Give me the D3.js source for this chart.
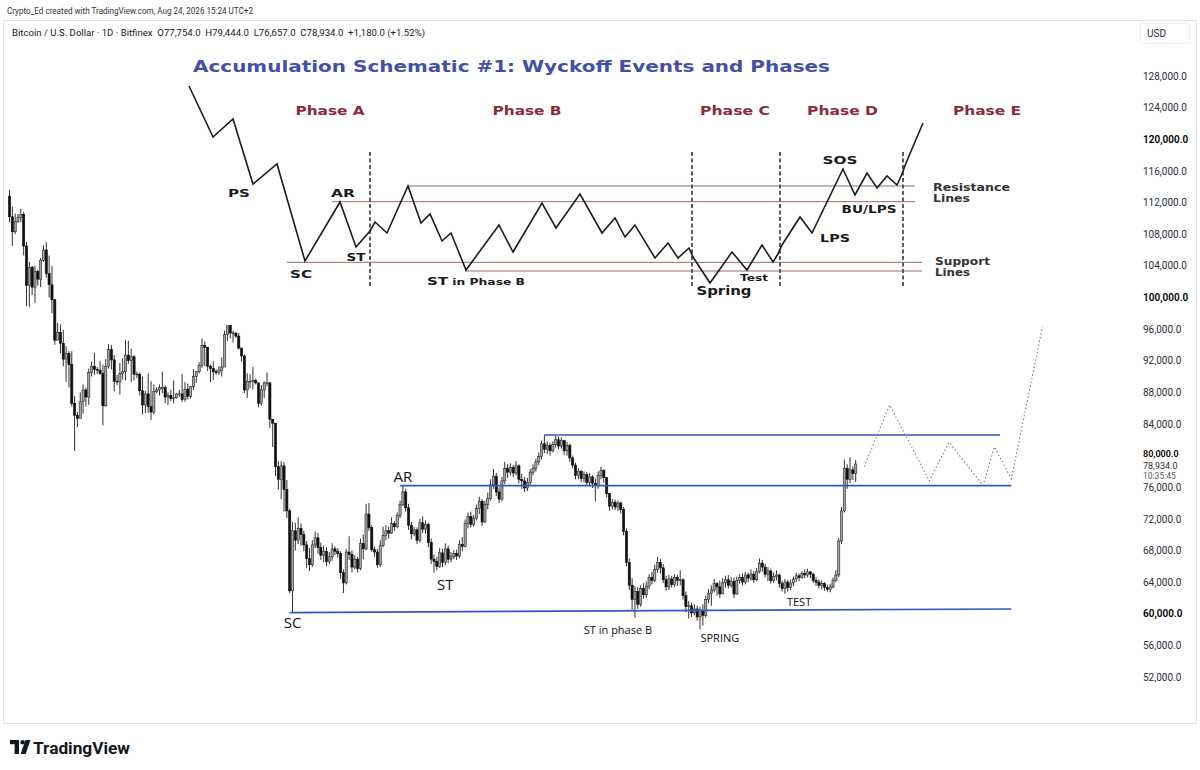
<!DOCTYPE html>
<html><head><meta charset="utf-8">
<script src="https://cdn.jsdelivr.net/npm/d3@7"></script>
<style>html,body{margin:0;padding:0;background:#fff;} svg{display:block;}</style>
</head><body>
<svg id="c" width="1200" height="770"></svg>
<script>
// ---------------- DATA ----------------
const startDate = "2025-10-29";   // first daily candle
const firstOpen = 112.8;          // thousands USD
// daily closes (thousands USD)
const closes = [
110.2,108.3,109.6,110.1,110.5,106.5,101.5,103.8,101.3,103.3,
102.3,104.7,106.0,103.0,101.6,99.7,94.6,95.6,94.2,92.2,
92.9,91.5,86.6,85.1,84.7,86.8,88.3,87.4,90.5,91.3,
90.9,90.8,90.4,86.3,91.3,93.4,92.1,89.4,89.3,90.4,
90.6,92.7,92.0,92.5,90.3,90.3,88.2,86.4,87.8,86.2,
85.5,88.1,88.3,88.6,88.6,87.4,87.6,87.2,87.3,87.8,
87.8,87.1,88.4,87.5,88.7,90.0,90.6,91.4,93.9,93.7,
91.3,91.0,90.6,90.5,90.8,91.2,95.3,96.9,95.5,95.5,
95.1,93.6,92.6,88.3,89.4,89.4,89.5,89.2,86.6,88.3,
89.2,89.2,84.6,84.1,78.6,77.0,78.7,75.7,73.0,62.9,
70.5,69.3,70.8,70.0,68.7,67.0,66.2,68.7,69.6,68.4,
67.4,67.9,66.6,67.2,68.2,67.9,67.6,65.2,63.9,67.8,
67.5,65.9,66.9,65.7,68.9,68.2,72.6,70.9,68.1,67.8,
66.2,68.6,69.9,70.5,70.2,71.4,71.0,72.4,73.8,75.4,
73.4,71.2,70.1,70.6,69.3,71.5,70.7,71.3,69.0,66.9,
66.6,66.0,67.7,66.5,68.2,66.9,67.2,67.6,67.3,68.8,
68.5,71.4,72.3,71.3,72.1,73.3,74.2,71.6,73.8,74.6,
76.3,77.4,75.4,74.5,76.8,78.4,77.9,78.5,77.8,78.7,
77.0,76.8,75.9,76.6,77.9,78.4,79.2,79.9,81.5,80.8,
81.3,80.6,81.4,82.0,81.2,81.9,80.6,81.3,79.7,78.8,
77.5,78.0,77.1,77.6,76.6,77.3,76.5,76.2,77.5,78.1,
77.2,75.2,73.6,74.1,73.5,74.0,73.2,70.4,66.5,63.6,
61.8,62.8,61.2,63.2,62.4,63.5,64.6,64.2,65.6,66.5,
65.8,64.3,63.4,64.4,63.7,64.6,64.2,64.3,62.3,60.9,
61.0,60.1,60.6,59.6,60.4,59.8,61.8,62.6,63.0,63.8,
63.4,62.5,63.9,64.3,63.6,64.1,62.5,64.2,64.6,64.0,
64.9,64.5,65.0,64.3,65.3,66.4,65.9,65.0,65.4,64.2,
64.7,64.9,63.8,63.2,64.0,63.3,63.9,64.4,64.8,64.6,
65.1,64.9,65.3,65.0,64.2,64.0,63.6,63.8,63.3,63.1,
63.4,64.2,64.9,69.2,73.0,78.4,77.0,78.2,77.754,78.934];
const highs = [
113.6,111.5,110.6,110.6,111.2,110.8,107.0,104.5,104.0,104.0,
103.5,105.0,106.6,107.0,105.3,104.0,99.8,96.8,96.6,95.9,
93.8,93.2,93.2,87.5,85.5,88.0,89.0,88.6,91.0,91.9,
93.0,91.2,92.0,91.5,92.2,94.1,94.0,92.7,90.2,91.7,
92.3,94.6,94.5,93.5,92.7,90.6,90.5,90.0,88.2,90.4,
89.4,89.0,88.6,89.0,90.6,88.9,88.0,88.3,89.5,87.9,
88.3,90.3,89.3,89.1,88.8,90.9,90.7,91.8,94.8,94.4,
93.6,91.5,91.9,90.9,91.3,92.4,95.8,97.9,97.1,95.8,
95.6,95.5,93.4,92.8,90.4,90.3,91.2,89.7,89.2,88.9,
89.4,90.5,89.3,84.6,84.1,79.3,79.3,79.2,76.9,73.3,
71.6,71.5,72.2,71.4,70.5,69.2,68.3,69.3,70.4,70.2,
69.0,68.6,68.4,67.8,68.9,68.5,68.3,67.9,65.6,68.2,
69.8,68.0,67.4,67.2,69.5,70.0,73.9,74.0,71.2,68.5,
68.2,69.3,71.0,71.2,71.0,72.2,71.7,72.8,74.3,76.2,
75.8,73.9,71.6,71.0,70.9,72.0,72.3,71.8,71.5,69.5,
67.5,67.2,68.3,68.2,68.9,68.6,67.8,68.0,68.1,69.3,
69.7,71.9,72.8,72.9,72.5,73.8,74.8,74.5,74.3,75.3,
77.0,78.3,77.8,76.0,77.3,79.2,78.9,79.0,78.8,79.3,
78.9,77.7,77.3,77.2,78.3,78.9,79.6,80.4,81.9,82.6,
81.8,81.6,81.8,82.5,82.4,82.3,82.0,81.7,81.5,80.0,
79.1,78.4,78.2,78.0,77.9,77.8,77.5,77.1,78.0,78.6,
78.3,77.3,75.0,74.5,74.4,74.3,74.2,73.5,70.8,67.0,
64.5,63.5,63.4,63.6,63.9,64.1,65.0,65.3,66.2,67.2,
66.9,66.3,64.8,64.9,64.8,65.0,64.9,65.5,64.5,62.8,
61.6,61.4,61.2,61.0,60.9,61.2,62.3,63.1,63.6,64.4,
64.0,64.2,64.5,64.8,64.9,64.6,64.6,64.7,65.0,65.1,
65.3,65.2,65.6,65.4,65.8,67.0,66.8,66.3,65.9,65.7,
65.2,65.5,65.1,64.2,64.4,64.3,64.3,64.7,65.2,65.1,
65.4,65.6,65.7,65.4,65.2,64.6,64.3,64.2,64.0,63.7,
63.8,64.6,65.5,69.6,73.5,79.5,78.9,79.8,78.6,79.444];
const lows = [
109.5,106.5,108.0,109.4,109.5,105.3,98.9,98.8,100.3,99.3,
101.5,101.3,104.5,102.5,100.0,98.0,94.0,94.6,92.9,91.3,
89.3,88.6,86.2,80.6,83.6,84.8,85.3,86.2,86.4,90.0,
90.2,90.3,90.2,83.8,86.2,91.0,90.9,88.1,88.9,87.7,
89.6,89.5,91.6,89.3,89.5,89.8,87.6,85.2,85.4,85.4,
84.5,85.2,87.9,87.6,87.9,86.6,86.4,86.9,86.6,87.2,
87.4,86.8,86.8,87.1,87.2,88.3,89.2,90.4,91.1,91.3,
90.7,89.3,89.6,90.2,90.2,90.0,91.2,94.5,94.8,94.3,
94.9,93.4,91.9,87.9,87.3,88.5,88.4,89.0,86.1,86.3,
87.3,88.8,83.5,81.1,77.4,75.7,74.5,72.9,72.1,62.6,
60.1,68.0,68.8,68.6,67.9,65.8,65.4,65.9,68.3,67.6,
66.8,66.5,66.0,66.3,66.7,67.4,67.1,64.4,62.6,63.7,
66.8,65.2,65.6,65.2,65.5,66.9,68.0,70.5,67.8,67.2,
65.8,65.9,68.4,69.3,69.5,70.1,70.5,70.8,72.1,73.6,
72.9,70.6,69.4,69.8,68.8,69.0,70.2,70.1,68.4,66.3,
65.2,65.5,65.8,65.9,66.1,66.4,66.5,66.9,66.8,67.0,
67.9,68.4,70.8,70.9,71.0,71.8,72.6,71.1,71.5,73.2,
74.3,75.8,74.9,74.0,74.2,76.4,77.2,77.5,77.3,77.5,
76.5,75.8,75.4,75.5,76.3,77.5,78.0,78.8,79.5,80.3,
80.2,80.0,80.4,81.0,80.8,80.9,80.1,80.0,79.2,78.4,
77.0,77.0,76.6,76.6,76.2,76.1,75.9,74.2,75.8,77.0,
76.6,74.7,73.0,73.2,73.1,73.0,72.7,69.9,66.0,63.0,
60.5,59.5,60.6,60.9,61.9,62.0,63.1,63.7,64.0,65.2,
65.1,63.9,62.9,63.0,63.3,63.4,63.5,63.6,61.8,60.2,
59.4,59.6,59.8,59.1,58.0,58.5,59.5,61.3,61.0,62.7,
62.3,62.0,62.6,63.3,63.2,63.3,62.0,62.4,63.8,63.6,
63.7,64.0,64.2,63.9,64.1,65.1,65.3,64.6,64.1,63.8,
63.9,64.2,63.3,62.8,62.5,62.8,63.0,63.5,64.0,64.1,
64.4,64.5,64.6,64.5,63.9,63.5,63.2,63.1,62.9,62.8,
62.7,63.2,64.0,64.6,68.8,72.8,75.8,76.5,76.9,76.657];

const monthTicks = ["2025-11-01","2025-12-01","2026-01-01","2026-02-01","2026-03-01","2026-04-01","2026-05-01","2026-06-01","2026-07-01","2026-08-01","2026-09-01","2026-10-01","2026-11-01","2026-12-01"];
const monthLabels = ["Nov","Dec","2026","Feb","Mar","Apr","May","Jun","Jul","Aug","Sep","Oct","Nov","Dec"];
const priceTicks = [52000,56000,60000,64000,68000,72000,76000,80000,84000,88000,92000,96000,100000,104000,108000,112000,116000,120000,124000,128000];
const strongTicks = [60000,80000,100000,120000];

// blue horizontal levels
const levelStart = ["2026-05-06","2026-03-16","2026-02-05"];
const levelEnd   = ["2026-10-14","2026-10-18","2026-10-18"];
const levelP0    = [82.6, 76.2, 60.15];
const levelP1    = [82.6, 76.2, 60.6];

// dotted projection
const projDates  = ["2026-08-27","2026-09-05","2026-09-19","2026-09-26","2026-10-08","2026-10-12","2026-10-18","2026-10-29"];
const projPrices = [78.6, 86.4, 76.8, 81.7, 76.2, 81.1, 77.05, 96.3];

// chart annotations
const noteText   = ["SC","AR","ST","ST in phase B","SPRING","TEST"];
const noteDates  = ["2026-02-06","2026-03-17","2026-04-01","2026-06-01","2026-07-07","2026-08-04"];
const notePrices = [58.2, 76.66, 63.0, 57.44, 56.4, 61.0];
const noteSizes  = [15, 15, 15, 11, 11, 11];

// ---- inset schematic (its own units: 0..930 x 0..275) ----
const schemX = [49,73,93,113,137,165,200,216,230,235,247,268,281,290,302,311,326,359,373,402,416,440,462,475,485,495,515,528,538,549,553,570,592,607,622,633,638,642,660,672,703,715,727,737,747,757,762,766,783];
const schemY = [36,87,69,134,114,211,152,197,181,172,183,136,173,164,191,183,220,175,202,153,178,144,183,168,187,175,208,193,208,198,207,233,202,220,195,212,204,195,167,183,119,145,123,138,126,135,124,113,73];
const schemHY  = [136, 151.7, 212.3, 221];
const schemHX0 = [268, 192, 147, 325];
const schemHX1 = [775, 775, 782, 782];
const schemVX  = [230, 552, 640, 763];
const phaseText = ["Phase A","Phase B","Phase C","Phase D","Phase E"];
const phaseX    = [190, 387, 595, 702.5, 847];
const phaseW    = [69, 69, 70, 71, 68];
const evText = ["PS","AR","SC","ST","LPS","BU/LPS","SOS","Test","Spring"];
const evX    = [99, 203, 161, 216, 695, 729, 700, 614, 584];
const evY    = [147, 147, 228, 211, 192, 163, 114, 231, 245];
const evW    = [22, 24, 22, 19, 30, 55, 35, 28, 55];
const evSize = [11, 11, 11, 11, 11, 11, 11, 9.5, 12.5];
const sideText = ["Resistance","Lines","Support","Lines"];
const sideX    = [793, 793, 795, 795];
const sideY    = [141, 152, 215, 226];
const sideW    = [77, 37, 55, 35];

if (closes.length !== highs.length || closes.length !== lows.length) throw new Error("len mismatch "+closes.length+" "+highs.length+" "+lows.length);

// ---------------- CHART ----------------
const svg = d3.select("#c");
const parse = d3.utcParse("%Y-%m-%d");
const PX_DAY = 2.83;
const x = d3.scaleUtc().domain([parse("2025-11-01"), parse("2026-12-01")]).range([18, 18 + 395*PX_DAY]);
const y = d3.scaleLinear().domain([52, 128]).range([677, 76]);
const PLOT_R = 1136;

svg.append("defs").append("clipPath").attr("id","plot")
  .append("rect").attr("x",3).attr("y",20).attr("width",PLOT_R-3).attr("height",704);
svg.select("defs").append("clipPath").attr("id","xax")
  .append("rect").attr("x",0).attr("y",690).attr("width",1141).attr("height",40);

// frame
svg.append("rect").attr("x",3.5).attr("y",20.5).attr("width",1193).attr("height",703)
  .attr("fill","none").attr("stroke","#e0e3eb");

const plot = svg.append("g").attr("clip-path","url(#plot)");

// candles
const start = parse(startDate);
const candles = closes.map((c,i)=>({
  date: d3.utcDay.offset(start, i),
  o: i===0 ? firstOpen : closes[i-1], c, h: highs[i], l: lows[i]
}));
const cg = plot.append("g");
const cs = cg.selectAll("g").data(candles).join("g");
cs.append("line")
  .attr("x1", d=>x(d.date)).attr("x2", d=>x(d.date))
  .attr("y1", d=>y(Math.max(d.h, d.o, d.c))).attr("y2", d=>y(Math.min(d.l, d.o, d.c)))
  .attr("stroke","#1a1a1a").attr("stroke-width",0.9);
cs.append("rect")
  .attr("x", d=>x(d.date)-1.1).attr("width",2.2)
  .attr("y", d=>y(Math.max(d.o,d.c)))
  .attr("height", d=>Math.max(0.8, Math.abs(y(d.o)-y(d.c))))
  .attr("fill", d=> d.c>=d.o ? "#a3a3a3" : "#111")
  .attr("stroke", d=> d.c>=d.o ? "#2a2a2a" : "#111").attr("stroke-width",0.6);

// blue levels
plot.selectAll(".lvl").data(levelStart).join("line").attr("class","lvl")
  .attr("x1",(d,i)=>x(parse(d))).attr("x2",(d,i)=>x(parse(levelEnd[i])))
  .attr("y1",(d,i)=>y(levelP0[i])).attr("y2",(d,i)=>y(levelP1[i]))
  .attr("stroke","#3157c9").attr("stroke-width",1.7);

// projection
const proj = projDates.map((d,i)=>[x(parse(d)), y(projPrices[i])]);
plot.append("path").attr("d", d3.line()(proj)).attr("fill","none")
  .attr("stroke","#777").attr("stroke-width",1.1).attr("stroke-dasharray","1.4,2.4");

// annotations
plot.selectAll(".note").data(noteText).join("text").attr("class","note")
  .attr("x",(d,i)=>x(parse(noteDates[i]))).attr("y",(d,i)=>y(notePrices[i]))
  .attr("text-anchor","middle").attr("font-family","'Open Sans', sans-serif")
  .attr("font-size",(d,i)=>noteSizes[i]).attr("fill","#111").text(d=>d);

// ---------------- INSET SCHEMATIC ----------------
const sx = d3.scaleLinear().domain([0,930]).range([140,1070]);
const sy = d3.scaleLinear().domain([0,275]).range([50,325]);
const sg = svg.append("g");
sg.append("rect").attr("x",sx(0)).attr("y",sy(0)).attr("width",sx(930)-sx(0)).attr("height",sy(275)-sy(0)).attr("fill","#fff");
const bold = "'DejaVu Sans', Verdana, sans-serif";
sg.append("text").attr("x",sx(371.5)).attr("y",sy(22)).attr("text-anchor","middle")
  .attr("font-family",bold).attr("font-weight","bold").attr("font-size",15.5)
  .attr("fill","#4250a8").attr("textLength",637).attr("lengthAdjust","spacingAndGlyphs")
  .text("Accumulation Schematic #1: Wyckoff Events and Phases");
sg.selectAll(".ph").data(phaseText).join("text").attr("class","ph")
  .attr("x",(d,i)=>sx(phaseX[i])).attr("y",sy(65)).attr("text-anchor","middle")
  .attr("font-family",bold).attr("font-weight","bold").attr("font-size",12.5)
  .attr("fill","#8c2b3d").attr("textLength",(d,i)=>phaseW[i]).attr("lengthAdjust","spacingAndGlyphs").text(d=>d);
sg.selectAll(".hl").data(schemHY).join("line").attr("class","hl")
  .attr("x1",(d,i)=>sx(schemHX0[i])).attr("x2",(d,i)=>sx(schemHX1[i]))
  .attr("y1",d=>sy(d)).attr("y2",d=>sy(d)).attr("stroke","#9a6a6a").attr("stroke-width",1);
sg.selectAll(".vl").data(schemVX).join("line").attr("class","vl")
  .attr("x1",d=>sx(d)).attr("x2",d=>sx(d)).attr("y1",sy(102)).attr("y2",sy(237))
  .attr("stroke","#555").attr("stroke-width",1.9).attr("stroke-dasharray","4,2.5");
sg.append("path").attr("d", d3.line()(schemX.map((v,i)=>[sx(v), sy(schemY[i])])))
  .attr("fill","none").attr("stroke","#1c1c1c").attr("stroke-width",1.6).attr("stroke-linejoin","miter");
sg.selectAll(".ev").data(evText).join("text").attr("class","ev")
  .attr("x",(d,i)=>sx(evX[i])).attr("y",(d,i)=>sy(evY[i])).attr("text-anchor","middle")
  .attr("font-family",bold).attr("font-weight","bold").attr("font-size",(d,i)=>evSize[i])
  .attr("fill","#1a1a1a").attr("textLength",(d,i)=>evW[i]).attr("lengthAdjust","spacingAndGlyphs").text(d=>d);
const stb = sg.append("text").attr("x",sx(336)).attr("y",sy(235)).attr("text-anchor","middle")
  .attr("font-family",bold).attr("font-weight","bold").attr("fill","#1a1a1a")
  .attr("textLength",98).attr("lengthAdjust","spacingAndGlyphs");
stb.append("tspan").attr("font-size",11).text("ST");
stb.append("tspan").attr("font-size",9).text(" in Phase B");
sg.selectAll(".sd").data(sideText).join("text").attr("class","sd")
  .attr("x",(d,i)=>sx(sideX[i])).attr("y",(d,i)=>sy(sideY[i]))
  .attr("font-family",bold).attr("font-weight","bold").attr("font-size",10)
  .attr("fill","#333").attr("textLength",(d,i)=>sideW[i]).attr("lengthAdjust","spacingAndGlyphs").text(d=>d);

// ---------------- AXES ----------------
const fmt = d3.format(",.1f");
const ya = svg.append("g").attr("transform",`translate(${PLOT_R},0)`)
  .call(d3.axisRight(y).tickValues(priceTicks.map(v=>v/1000)).tickSize(0).tickPadding(7).tickFormat(v=>fmt(v*1000)));
ya.select(".domain").remove();
ya.selectAll("text").attr("font-family","Roboto, sans-serif").attr("font-size",10)
  .attr("fill",v=> strongTicks.includes(Math.round(v*1000)) ? "#000" : "#2a2e39")
  .attr("font-weight",v=> strongTicks.includes(Math.round(v*1000)) ? 600 : 400);
// 80,000 label sits tight above the last price, as in the reference
ya.selectAll(".tick").filter(v=>Math.round(v*1000)===80000).select("text").attr("font-size",9).attr("dy","0.1em");
// last price & countdown
const lastY = y(closes[closes.length-1]);
svg.append("text").attr("x",PLOT_R+7).attr("y",lastY+2).attr("dy","0.32em")
  .attr("font-family","Roboto, sans-serif").attr("font-size",9).attr("fill","#2a2e39").text(fmt(closes[closes.length-1]*1000));
svg.append("text").attr("x",PLOT_R+7).attr("y",lastY+12).attr("dy","0.32em")
  .attr("font-family","Roboto, sans-serif").attr("font-size",8.5).attr("fill","#555").text("10:35:45");
// USD box
svg.append("rect").attr("x",1140.5).attr("y",23.5).attr("width",49).attr("height",20).attr("rx",2)
  .attr("fill","#fff").attr("stroke","#eceef2");
svg.append("text").attr("x",1147).attr("y",37).attr("font-family","Roboto, sans-serif").attr("font-size",10)
  .attr("fill","#2a2e39").text("USD");

const xa = svg.append("g").attr("transform","translate(0,700)").attr("clip-path","url(#xax)")
  .call(d3.axisBottom(x).tickValues(monthTicks.map(parse)).tickSize(0).tickPadding(8).tickFormat((d,i)=>monthLabels[i]));
xa.select(".domain").remove();
xa.selectAll("text").attr("font-family","Roboto, sans-serif").attr("font-size",10).attr("fill","#2a2e39");

// ---------------- HEADER ----------------
svg.append("text").attr("x",7).attr("y",13.5).attr("font-family","Roboto, sans-serif").attr("font-size",9.5)
  .attr("fill","#333").attr("textLength",246).attr("lengthAdjust","spacingAndGlyphs")
  .text("Crypto_Ed created with TradingView.com, Aug 24, 2026 15:24 UTC+2");
svg.append("text").attr("x",12).attr("y",35.5).attr("font-family","Roboto, sans-serif").attr("font-size",9.5)
  .attr("fill","#222").style("white-space","pre").attr("textLength",413).attr("lengthAdjust","spacingAndGlyphs")
  .text("Bitcoin / U.S. Dollar · 1D · Bitfinex  O77,754.0  H79,444.0  L76,657.0  C78,934.0  +1,180.0 (+1.52%)");

// ---------------- LOGO ----------------
const lg = svg.append("g").attr("fill","#131722");
lg.append("rect").attr("x",10).attr("y",740).attr("width",9).attr("height",4.2);
lg.append("rect").attr("x",14.6).attr("y",740).attr("width",4.4).attr("height",14);
lg.append("circle").attr("cx",22.6).attr("cy",742.2).attr("r",2.2);
lg.append("polygon").attr("points","25.5,740 30.5,740 25.6,754 20.6,754");
svg.append("text").attr("x",33).attr("y",754).attr("font-family","Roboto, sans-serif").attr("font-weight",700)
  .attr("font-size",17).attr("fill","#131722").attr("textLength",97).attr("lengthAdjust","spacingAndGlyphs").text("TradingView");
</script>
</body></html>
